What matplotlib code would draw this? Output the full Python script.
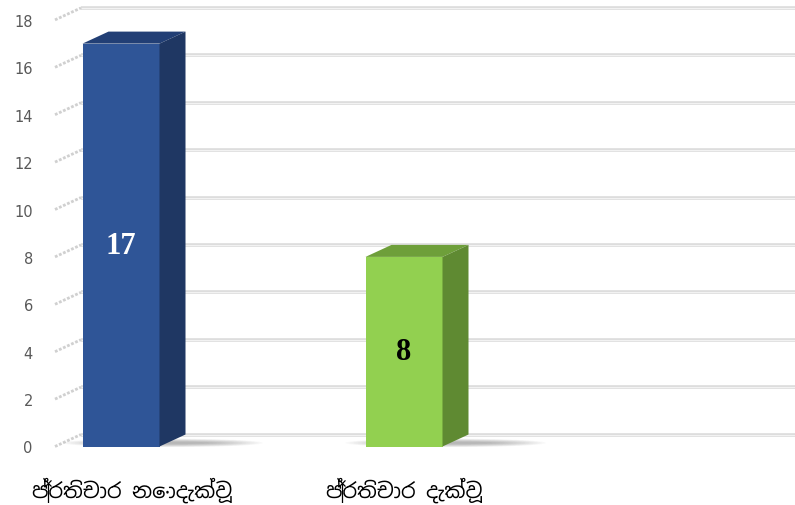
import matplotlib
matplotlib.use("Agg")
import matplotlib.pyplot as plt
from matplotlib import font_manager
from matplotlib.patches import Polygon, Ellipse

# data
categories = ["ප්‍රතිචාර නොදැක්වූ", "ප්‍රතිචාර දැක්වූ"]
values = [17, 8]
y_ticks = [0, 2, 4, 6, 8, 10, 12, 14, 16, 18]

front_cols = ["#2F5597", "#92D050"]
top_cols = ["#223F75", "#6E9F3A"]
side_cols = ["#1F3763", "#5F8A32"]
label_cols = ["white", "black"]

# register a Sinhala font if there is one
si_family = "DejaVu Sans"
for path in font_manager.findSystemFonts():
    if "NotoSansSinhalaUI" in path or "NotoSansSinhala" in path:
        font_manager.fontManager.addfont(path)
        si_family = font_manager.FontProperties(fname=path).get_name()
        break

fig = plt.figure(figsize=(7.95, 5.06), dpi=100)
W, H = 795, 506
y0_px, px_per_unit = 447.5, 23.7
left_px, right_px = 55, 769
ax = fig.add_axes([left_px / W, (H - y0_px) / H, (right_px - left_px) / W,
                   18 * px_per_unit / H])

cat_px = 283.0
xmin = -(121 - left_px) / cat_px
ax.set_xlim(xmin, xmin + (right_px - left_px) / cat_px)
ax.set_ylim(0, 18)
for s in ax.spines.values():
    s.set_visible(False)
ax.set_xticks([])
ax.set_yticks(y_ticks)
ax.tick_params(axis="y", length=0, pad=16, labelsize=10.5, labelcolor="#595959")

# depth of the 3d look, in data units
dx = 26 / cat_px
dy = 12 / px_per_unit
x_lo, x_hi = ax.get_xlim()

# back wall gridlines and side wall lines
for t in y_ticks:
    ax.plot([x_lo + dx, x_hi + dx], [t + dy, t + dy], color="#dcdcdc", lw=2.6,
            solid_capstyle="butt", clip_on=False, zorder=1)
    ax.plot([x_lo + dx, x_hi + dx], [t + dy, t + dy], color="#f2f2f2", lw=0.8,
            solid_capstyle="butt", clip_on=False, zorder=1)
    ax.plot([x_lo, x_lo + dx], [t, t + dy], color="#d0d0d0", lw=2.0,
            ls=(0, (1, 0.6)), clip_on=False, zorder=1)

bw = 77 / cat_px
label_shift = [11 / cat_px, 0.0]
for i, (v, c) in enumerate(zip(values, categories)):
    xl, xr = i - bw / 2, i + bw / 2

    # soft floor shadow, heavier next to the bar's side
    for k in range(14):
        f = 1 - k / 14
        ax.add_patch(Ellipse((i + dx * 1.6, dy * 0.3), width=bw * (1.1 + 1.5 * f),
                             height=dy * 0.6 * f + 0.06, color="#6f6f6f",
                             alpha=0.045, lw=0, zorder=2))

    ax.bar(i, v, width=bw, color=front_cols[i], edgecolor="none", zorder=4)
    ax.add_patch(Polygon([(xl, v), (xr, v), (xr + dx, v + dy), (xl + dx, v + dy)],
                         closed=True, color=top_cols[i], lw=0, zorder=4,
                         clip_on=False))
    ax.add_patch(Polygon([(xr, 0), (xr + dx, dy), (xr + dx, v + dy), (xr, v)],
                         closed=True, color=side_cols[i], lw=0, zorder=4,
                         clip_on=False))

    ax.text(i, v / 2, str(v), ha="center", va="center", fontsize=22,
            fontweight="bold", family="Liberation Serif", color=label_cols[i],
            zorder=5)

    ax.text(i + label_shift[i], -(490 - y0_px) / px_per_unit, c, ha="center",
            va="center", family=[si_family, "DejaVu Sans"], fontsize=15,
            color="black", clip_on=False)

fig.savefig("out.png", dpi=100)
